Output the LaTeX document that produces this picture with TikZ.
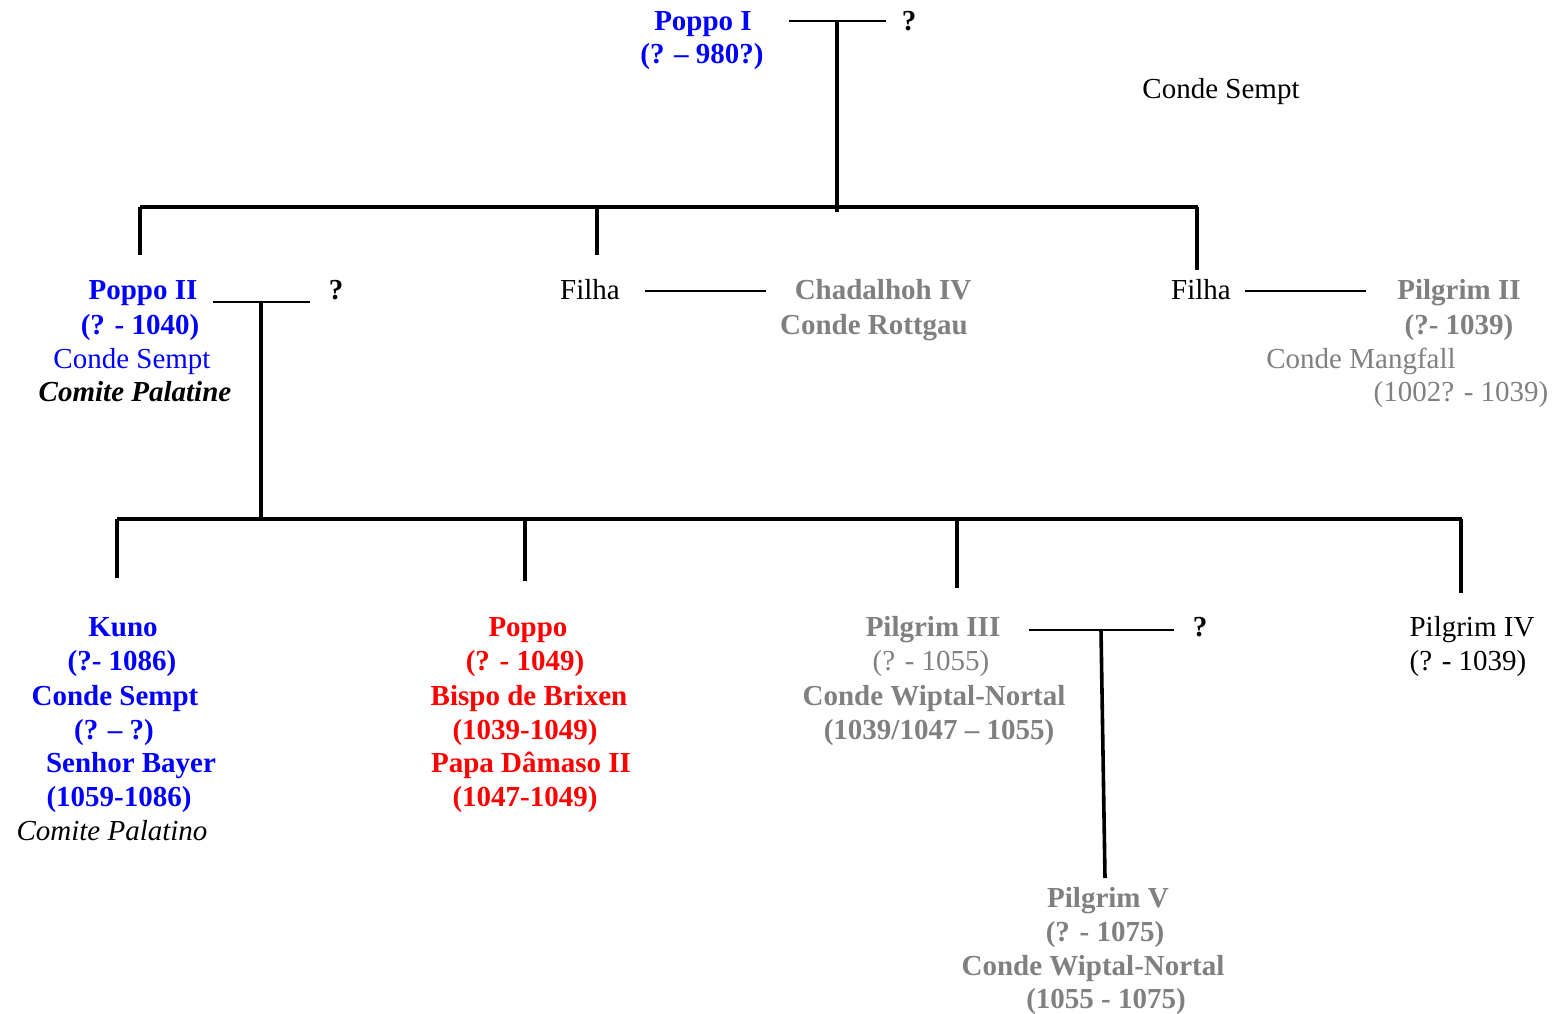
\documentclass[tikz,border=0pt]{standalone}
\usepackage{fontspec}
\setmainfont{Liberation Serif}
\definecolor{nblue}{RGB}{0,0,255}
\definecolor{nred}{RGB}{255,0,0}
\definecolor{ngray}{RGB}{128,128,128}
\begin{document}
\begin{tikzpicture}[x=1pt,y=-1pt,
  lbl/.style={anchor=base,inner sep=0pt,font=\fontsize{29}{34}\selectfont},
  lblb/.style={anchor=base,inner sep=0pt,font=\fontsize{29}{34}\selectfont\bfseries},
  lbli/.style={anchor=base,inner sep=0pt,font=\fontsize{29}{34}\selectfont\itshape},
  lblbi/.style={anchor=base,inner sep=0pt,font=\fontsize{29}{34}\selectfont\bfseries\itshape},
  bond/.style={line width=2pt},
  tree/.style={line width=3.6pt}]
\useasboundingbox[fill=white] (0,0) rectangle (1552,1013);

% --- Generation I ---
\node[lblb,nblue] (p1a) at (703,30) {Poppo I};
\node[lblb,nblue] (p1b) at (702,63) {(? – 980?)};
\node[lblb] (p1w) at (909,30) {?};
\node[lbl] (cs) at (1221,98) {Conde Sempt};

% --- Generation II ---
\node[lblb,nblue] (p2a) at (143,299) {Poppo II};
\node[lblb,nblue] (p2b) at (140,334) {(? - 1040)};
\node[lbl,nblue] (p2c) at (132,368) {Conde Sempt};
\node[lblbi] (p2d) at (135,401) {Comite Palatine};
\node[lblb] (p2w) at (336,299) {?};

\node[lbl] (f1) at (590,299) {Filha};
\node[lblb,ngray] (ch1) at (883,299) {Chadalhoh IV};
\node[lblb,ngray] (ch2) at (874,334) {Conde Rottgau};

\node[lbl] (f2) at (1201,299) {Filha};
\node[lblb,ngray] (pg2a) at (1459,299) {Pilgrim II};
\node[lblb,ngray] (pg2b) at (1459,334) {(?- 1039)};
\node[lbl,ngray] (pg2c) at (1361,368) {Conde Mangfall};
\node[lbl,ngray] (pg2d) at (1461,401) {(1002? - 1039)};

% --- Generation III ---
\node[lblb,nblue] (k1) at (123,636) {Kuno};
\node[lblb,nblue] (k2) at (122,670) {(?- 1086)};
\node[lblb,nblue] (k3) at (115,705) {Conde Sempt};
\node[lblb,nblue] (k4) at (114,739) {(? – ?)};
\node[lblb,nblue] (k5) at (131,772) {Senhor Bayer};
\node[lblb,nblue] (k6) at (119,806) {(1059-1086)};
\node[lbli] (k7) at (112,840) {Comite Palatino};

\node[lblb,nred] (r1) at (528,636) {Poppo};
\node[lblb,nred] (r2) at (525,670) {(? - 1049)};
\node[lblb,nred] (r3) at (529,705) {Bispo de Brixen};
\node[lblb,nred] (r4) at (525,739) {(1039-1049)};
\node[lblb,nred] (r5) at (531,772) {Papa Dâmaso II};
\node[lblb,nred] (r6) at (525,806) {(1047-1049)};

\node[lblb,ngray] (pg3a) at (933,636) {Pilgrim III};
\node[lbl,ngray] (pg3b) at (931,670) {(? - 1055)};
\node[lblb,ngray] (pg3c) at (934,705) {Conde Wiptal-Nortal};
\node[lblb,ngray] (pg3d) at (939,739) {(1039/1047 – 1055)};
\node[lblb] (pg3w) at (1200,636) {?};

\node[lbl] (pg4a) at (1472,636) {Pilgrim IV};
\node[lbl] (pg4b) at (1468,670) {(? - 1039)};

% --- Generation IV ---
\node[lblb,ngray] (pg5a) at (1108,907) {Pilgrim V};
\node[lblb,ngray] (pg5b) at (1105,941) {(? - 1075)};
\node[lblb,ngray] (pg5c) at (1093,975) {Conde Wiptal-Nortal};
\node[lblb,ngray] (pg5d) at (1106,1008) {(1055 - 1075)};

% --- junction points ---
\coordinate (m1l) at (789,21);  \coordinate (m1r) at (886,21);
\coordinate (m1c) at (837,21);  \coordinate (g1c) at (837,212);
\coordinate (g1l) at (140,207); \coordinate (g1r) at (1198,207);
\coordinate (d1a) at (140,255); \coordinate (d1b) at (597,255); \coordinate (d1c) at (1197,270);
\coordinate (m2l) at (213,302); \coordinate (m2r) at (310,302); \coordinate (m2c) at (261,302);
\coordinate (m3l) at (645,291); \coordinate (m3r) at (766,291);
\coordinate (m4l) at (1245,291); \coordinate (m4r) at (1366,291);
\coordinate (g2c) at (261,519); \coordinate (g2l) at (117,519); \coordinate (g2r) at (1462,519);
\coordinate (d2a) at (117,578); \coordinate (d2b) at (525,581); \coordinate (d2c) at (957,588); \coordinate (d2d) at (1461,593);
\coordinate (m5l) at (1029,630); \coordinate (m5r) at (1174,630); \coordinate (m5c) at (1101,630);
\coordinate (d3) at (1105,878);

% --- connectors ---
\draw[bond] (m1l) -- (m1r);
\draw[tree] (m1c) -- (g1c);
\draw[tree] (g1l) -- (g1r);
\draw[tree] (g1l) -- (d1a);
\draw[tree] (d1b |- g1l) -- (d1b);
\draw[tree] (d1c |- g1l) -- (d1c);

\draw[bond] (m2l) -- (m2r);
\draw[tree] (m2c) -- (g2c);
\draw[bond] (m3l) -- (m3r);
\draw[bond] (m4l) -- (m4r);

\draw[tree] (g2l) -- (g2r);
\draw[tree] (g2l) -- (d2a);
\draw[tree] (d2b |- g2l) -- (d2b);
\draw[tree] (d2c |- g2l) -- (d2c);
\draw[tree] (d2d |- g2l) -- (d2d);

\draw[bond] (m5l) -- (m5r);
\draw[tree] (m5c) -- (d3);
\end{tikzpicture}
\end{document}
